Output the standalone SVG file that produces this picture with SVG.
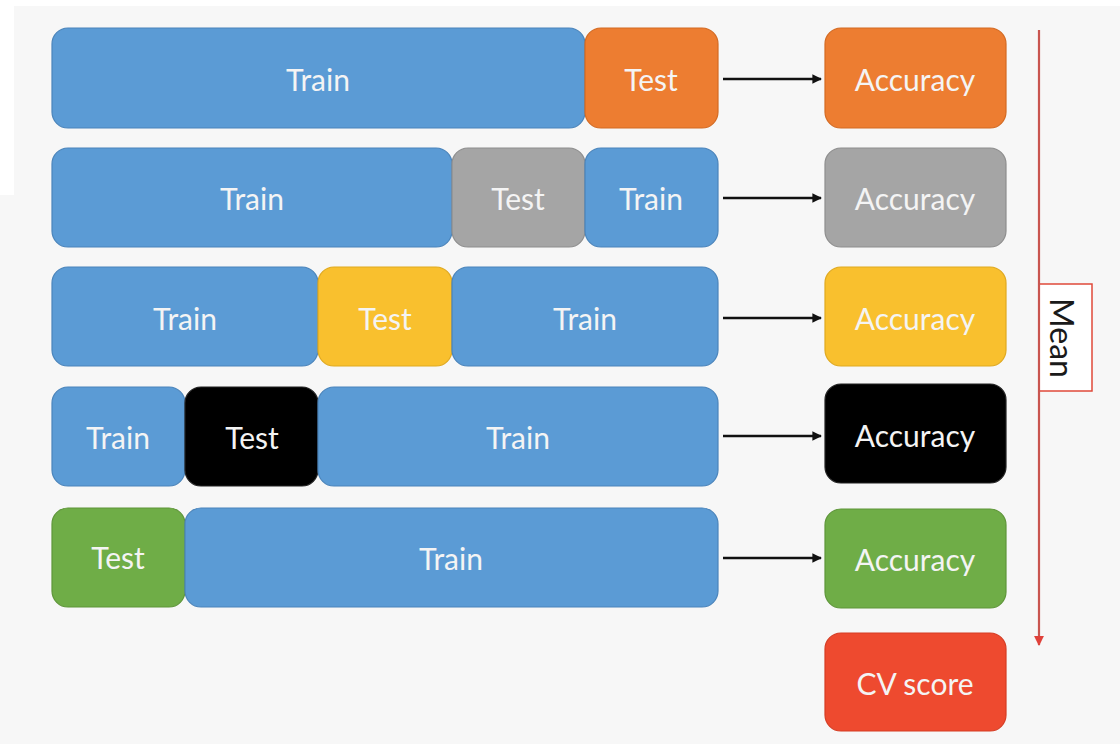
<svg xmlns="http://www.w3.org/2000/svg" width="1120" height="744" viewBox="0 0 1120 744">
  <style>
    .blk { stroke-width: 1.2; }
    .train { fill: #5b9bd5; stroke: #4a84bb; }
    .orange { fill: #ed7d31; stroke: #d46a22; }
    .grey { fill: #a5a5a5; stroke: #8e8e8e; }
    .yellow { fill: #f9c02e; stroke: #e0a91f; }
    .black { fill: #000000; stroke: #222222; }
    .green { fill: #6fad47; stroke: #5e9639; }
    .red { fill: #ee4a2f; stroke: #d63d24; }
    text { font-family: Lato, "Open Sans", "Liberation Sans", sans-serif; font-size: 30px; fill: #f4f4f4; text-anchor: middle; dominant-baseline: central; }
    .dark { fill: #1a1a1a; }
    .conn { stroke: #111111; stroke-width: 2.4; fill: none; marker-end: url(#arr); }
  </style>
  <defs>
    <marker id="arr" viewBox="0 0 10 10" refX="9" refY="5" markerWidth="4.5" markerHeight="4" orient="auto" markerUnits="strokeWidth">
      <path d="M0,0 L10,5 L0,10 z" fill="#111111"/>
    </marker>
    <marker id="redarr" viewBox="0 0 10 10" refX="9" refY="5" markerWidth="5" markerHeight="4.5" orient="auto" markerUnits="strokeWidth">
      <path d="M0,0 L10,5 L0,10 z" fill="#e0413a"/>
    </marker>
  </defs>

  <!-- background -->
  <rect x="0" y="0" width="1120" height="744" fill="#f7f7f7"/>
  <rect x="0" y="0" width="1120" height="6" fill="#ffffff"/>
  <rect x="0" y="0" width="14" height="195" fill="#ffffff"/>

  <!-- fold 1 -->
  <g id="fold1">
    <rect class="blk train" x="52" y="28" width="533" height="100" rx="16"/>
    <text x="318" y="79">Train</text>
    <rect class="blk orange" x="585" y="28" width="133" height="100" rx="16"/>
    <text x="651" y="79">Test</text>
  </g>
  <!-- fold 2 -->
  <g id="fold2">
    <rect class="blk train" x="52" y="148" width="400" height="99" rx="16"/>
    <text x="252" y="198">Train</text>
    <rect class="blk grey" x="452" y="148" width="133" height="99" rx="16"/>
    <text x="518" y="198">Test</text>
    <rect class="blk train" x="585" y="148" width="133" height="99" rx="16"/>
    <text x="651" y="198">Train</text>
  </g>
  <!-- fold 3 -->
  <g id="fold3">
    <rect class="blk train" x="52" y="267" width="266" height="99" rx="16"/>
    <text x="185" y="318">Train</text>
    <rect class="blk yellow" x="318" y="267" width="134" height="99" rx="16"/>
    <text x="385" y="318">Test</text>
    <rect class="blk train" x="452" y="267" width="266" height="99" rx="16"/>
    <text x="585" y="318">Train</text>
  </g>
  <!-- fold 4 -->
  <g id="fold4">
    <rect class="blk train" x="52" y="387" width="133" height="99" rx="16"/>
    <text x="118" y="437">Train</text>
    <rect class="blk black" x="185" y="387" width="133" height="99" rx="16"/>
    <text x="252" y="437">Test</text>
    <rect class="blk train" x="318" y="387" width="400" height="99" rx="16"/>
    <text x="518" y="437">Train</text>
  </g>
  <!-- fold 5 -->
  <g id="fold5">
    <rect class="blk green" x="52" y="508" width="133" height="99" rx="16"/>
    <text x="118" y="557">Test</text>
    <rect class="blk train" x="185" y="508" width="533" height="99" rx="16"/>
    <text x="451" y="558">Train</text>
  </g>

  <!-- per-fold scores -->
  <g id="acc1">
    <rect class="blk orange" x="825" y="28" width="181" height="100" rx="16"/>
    <text x="915" y="79">Accuracy</text>
  </g>
  <g id="acc2">
    <rect class="blk grey" x="825" y="148" width="181" height="99" rx="16"/>
    <text x="915" y="198">Accuracy</text>
  </g>
  <g id="acc3">
    <rect class="blk yellow" x="825" y="267" width="181" height="99" rx="16"/>
    <text x="915" y="318">Accuracy</text>
  </g>
  <g id="acc4">
    <rect class="blk black" x="825" y="384" width="181" height="99" rx="16"/>
    <text x="915" y="435">Accuracy</text>
  </g>
  <g id="acc5">
    <rect class="blk green" x="825" y="509" width="181" height="99" rx="16"/>
    <text x="915" y="559">Accuracy</text>
  </g>
  <g id="cvscore">
    <rect class="blk red" x="825" y="633" width="181" height="98" rx="16"/>
    <text x="915" y="683" font-size="28">CV score</text>
  </g>

  <!-- mean label on the averaging line -->
  <g id="mean">
    <rect x="1039" y="284" width="53" height="107" fill="#ffffff" stroke="#e0493a" stroke-width="1.5"/>
    <text class="dark" x="1062" y="338" transform="rotate(90 1062 338)" style="font-size:32px">Mean</text>
  </g>

  <!-- connectors -->
  <g id="connectors">
    <line class="conn" x1="723" y1="79" x2="821" y2="79"/>
    <line class="conn" x1="723" y1="198" x2="821" y2="198"/>
    <line class="conn" x1="723" y1="318" x2="821" y2="318"/>
    <line class="conn" x1="723" y1="436" x2="821" y2="436"/>
    <line class="conn" x1="723" y1="558" x2="821" y2="558"/>
    <line x1="1039" y1="30" x2="1039" y2="645" stroke="#c9554f" stroke-width="2.2" marker-end="url(#redarr)"/>
  </g>
</svg>
